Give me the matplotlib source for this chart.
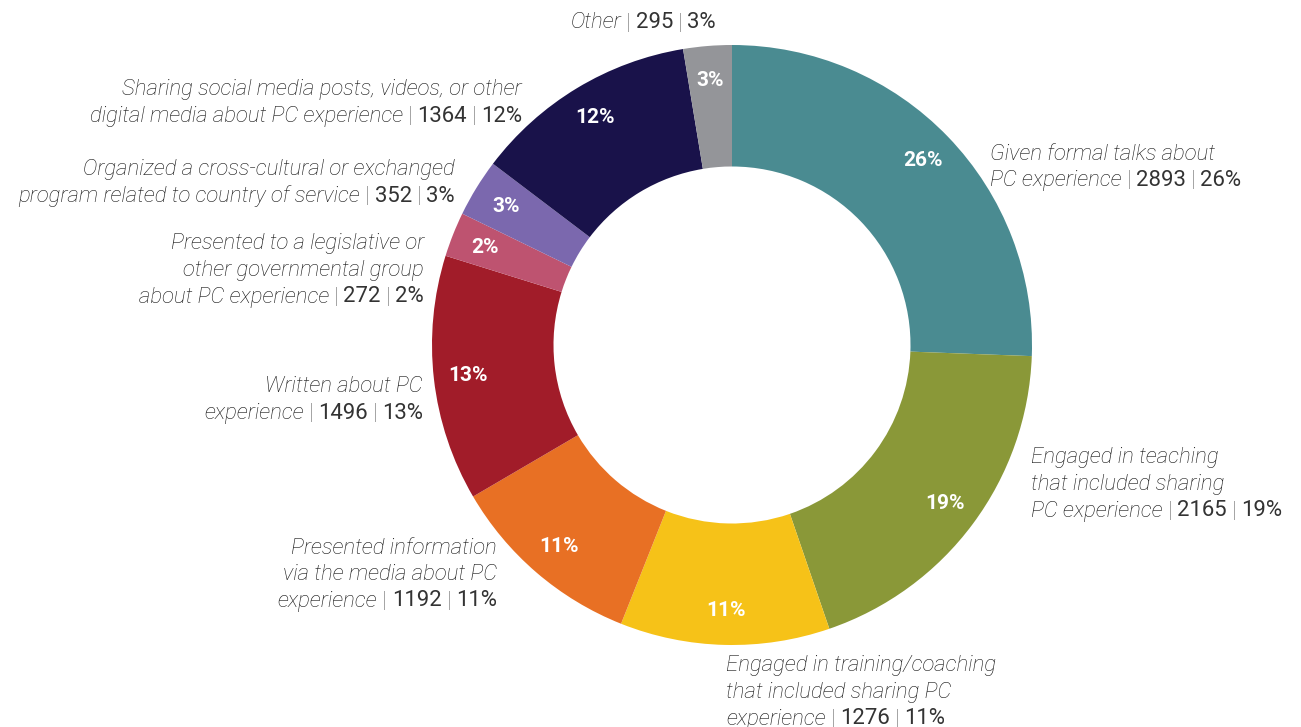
import numpy as np
import matplotlib.pyplot as plt

# slices, clockwise from 12 o'clock
categories = [
    "Given formal talks about\nPC experience",
    "Engaged in teaching\nthat included sharing\nPC experience",
    "Engaged in training/coaching\nthat included sharing PC\nexperience",
    "Presented information\nvia the media about PC\nexperience",
    "Written about PC\nexperience",
    "Presented to a legislative or\nother governmental group\nabout PC experience",
    "Organized a cross-cultural or exchanged\nprogram related to country of service",
    "Sharing social media posts, videos, or other\ndigital media about PC experience",
    "Other",
]
counts = [2893, 2165, 1276, 1192, 1496, 272, 352, 1364, 295]
colors = ["#4A8B91", "#8A9838", "#F6C218", "#E87024", "#A11C29",
          "#BE5370", "#7B68AE", "#19124A", "#949599"]

# label anchor (x, y of first line, alignment) in pixels
label_pos = [
    (990, 154, "left"),
    (1031, 458, "left"),
    (726, 666, "left"),
    (497, 548, "right"),
    (423, 387, "right"),
    (424, 244, "right"),
    (455, 170, "right"),
    (522, 90, "right"),
    (716, 23, "right"),
]

W, H = 1301, 727
FS = 15.9
LINE = 26.5
GAP = 5

fig = plt.figure(figsize=(W / 100, H / 100), dpi=100)
ax = fig.add_axes([0, 0, 1, 1])

total = sum(counts)
pcts = [int(round(c / total * 100)) for c in counts]

cx, cy, R = 732, H - 345, 300
wedges, _ = ax.pie(counts, colors=colors, startangle=90, counterclock=False,
                   center=(cx, cy), radius=R, frame=True,
                   wedgeprops=dict(width=R * 0.405, linewidth=0))
ax.set_xlim(0, W)
ax.set_ylim(0, H)
ax.set_aspect("equal")
ax.axis("off")

# percent labels inside the ring
for w, p in zip(wedges, pcts):
    mid = np.deg2rad((w.theta1 + w.theta2) / 2)
    r = R * 0.885
    ax.text(cx + r * np.cos(mid), cy + r * np.sin(mid), f"{p}%", color="white",
            fontsize=15, fontweight="bold", family="Roboto",
            ha="center", va="center")

fig.canvas.draw()
renderer = fig.canvas.get_renderer()

ital = dict(family="Roboto", style="italic", fontweight="light", color="#151515", fontsize=FS)
reg = dict(family="Roboto", fontweight="normal", color="#333333", fontsize=FS)
pipe = dict(family="Roboto", fontweight="light", color="#666666", fontsize=FS)


def rich_line(x, y, pieces, ha):
    # pieces drawn side by side, measured one by one
    order = pieces if ha == "left" else pieces[::-1]
    cur = x
    for txt, props in order:
        t = ax.text(cur, y, txt, ha=ha, va="center", **props)
        wpx = t.get_window_extent(renderer).width
        cur = cur + wpx + GAP if ha == "left" else cur - wpx - GAP


for cat, n, p, (lx, ly, ha) in zip(categories, counts, pcts, label_pos):
    lines = cat.split("\n")
    for i, ln in enumerate(lines):
        y = H - (ly + i * LINE)
        pieces = [(ln, ital)]
        if i == len(lines) - 1:
            pieces += [("|", pipe), (str(n), reg), ("|", pipe), (f"{p}%", reg)]
        rich_line(lx, y, pieces, ha)

fig.savefig("out.png", dpi=100, facecolor="white")
